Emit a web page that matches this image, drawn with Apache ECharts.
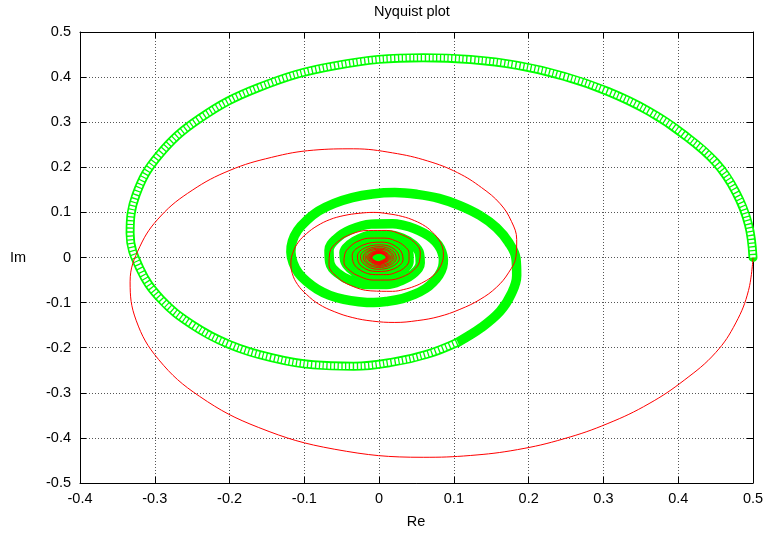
<!DOCTYPE html>
<html>
<head>
<meta charset="utf-8">
<title>Nyquist plot</title>
<script src="https://cdn.jsdelivr.net/npm/echarts@6/dist/echarts.min.js"></script>
<style>
  html, body { margin: 0; padding: 0; background: #fff; }
  #chart { width: 767px; height: 534px; }
</style>
</head>
<body>
<div id="chart"></div>
<script>
// Axis ranges and tick labels
const X_MIN = -0.4, X_MAX = 0.5, Y_MIN = -0.5, Y_MAX = 0.5, STEP = 0.1;
const xTickLabels = ['-0.4', '-0.3', '-0.2', '-0.1', '0', '0.1', '0.2', '0.3', '0.4', '0.5'];
const yTickLabels = ['-0.5', '-0.4', '-0.3', '-0.2', '-0.1', '0', '0.1', '0.2', '0.3', '0.4', '0.5'];

// Positive-frequency branch (Re, Im), first turn: sparse square markers
const greenOuterPts = [
  [0.500, 0.000], [0.494, 0.073], [0.477, 0.145], [0.450, 0.211], [0.408, 0.272],
  [0.361, 0.324], [0.306, 0.368], [0.247, 0.402], [0.185, 0.426], [0.122, 0.439],
  [0.059, 0.443], [-0.060, 0.425], [-0.161, 0.377], [-0.240, 0.308], [-0.295, 0.226],
  [-0.325, 0.139], [-0.333, 0.054], [-0.320, -0.024], [-0.292, -0.092], [-0.250, -0.149],
  [-0.200, -0.193], [-0.144, -0.222], [-0.088, -0.238], [-0.034, -0.241], [0.018, -0.232],
  [0.065, -0.214], [0.105, -0.188]
];

// Positive-frequency branch, remaining turns (markers merge into a solid band)
const greenInnerPts = [
  [0.105, -0.188], [0.137, -0.155], [0.162, -0.119], [0.177, -0.080], [0.184, -0.040],
  [0.183, -0.002], [0.173, 0.034], [0.157, 0.066], [0.135, 0.093], [0.108, 0.115],
  [0.080, 0.131], [0.051, 0.140], [0.021, 0.144], [-0.009, 0.141], [-0.036, 0.133],
  [-0.060, 0.120], [-0.081, 0.103], [-0.097, 0.082], [-0.109, 0.060], [-0.116, 0.036],
  [-0.118, 0.012], [-0.115, -0.012], [-0.108, -0.034], [-0.097, -0.053], [-0.083, -0.070],
  [-0.066, -0.084], [-0.047, -0.093], [-0.027, -0.098], [-0.007, -0.100], [0.012, -0.097],
  [0.031, -0.091], [0.047, -0.082], [0.062, -0.069], [0.072, -0.055], [0.080, -0.039],
  [0.085, -0.021], [0.086, -0.005], [0.084, 0.012], [0.079, 0.028], [0.071, 0.042],
  [0.060, 0.054], [0.047, 0.064], [0.033, 0.071], [0.018, 0.075], [-0.011, 0.074],
  [-0.038, 0.062], [-0.057, 0.042], [-0.067, 0.016], [-0.066, -0.011], [-0.056, -0.034],
  [-0.037, -0.052], [-0.014, -0.060], [0.010, -0.060], [0.031, -0.050], [0.047, -0.034],
  [0.055, -0.012], [0.054, 0.009], [0.046, 0.028], [0.031, 0.043], [0.012, 0.050],
  [-0.008, 0.050], [-0.026, 0.042], [-0.039, 0.029], [-0.047, 0.011], [-0.046, -0.007],
  [-0.039, -0.024], [-0.027, -0.037], [-0.011, -0.043], [0.007, -0.043], [0.022, -0.037],
  [0.034, -0.025], [0.040, -0.010], [0.040, 0.006], [0.035, 0.021], [0.024, 0.032],
  [0.010, 0.038], [-0.005, 0.038],
  [-0.030, 0.022], [-0.036, -0.005], [-0.021, -0.028], [0.004, -0.034], [0.026, -0.020],
  [0.032, 0.004], [0.020, 0.025], [-0.003, 0.031],
  [-0.024, 0.019], [-0.029, -0.003], [-0.018, -0.022], [0.003, -0.028], [0.021, -0.0175],
  [0.027, 0.002], [0.017, 0.020], [-0.002, 0.026],
  [-0.019, 0.016], [-0.025, -0.002], [-0.016, -0.018], [0.0015, -0.024], [0.0175, -0.0156],
  [0.023, 0.001], [0.015, 0.0167], [-0.001, 0.022],
  [-0.016, 0.0146], [-0.0214, -0.0008], [-0.0143, -0.0153], [0.0006, -0.0207], [0.0146, -0.0141],
  [0.020, 0.0004], [0.0137, 0.0141], [-0.0002, 0.0194],
  [-0.0141, 0.0129], [-0.0188, -0.0007], [-0.0126, -0.0135], [0.0005, -0.0182], [0.013, -0.0125],
  [0.0177, 0.0004], [0.0122, 0.0125], [-0.0002, 0.0172],
  [-0.0168, -0.0006], [0.0004, -0.0163], [0.0159, 0.0003], [0.000, 0.0155],
  [-0.0152, 0.000], [0.000, -0.0148], [0.0145, 0.000], [0.000, 0.0141],
  [-0.0138, 0.000], [0.000, -0.0135], [0.0132, 0.000], [0.000, 0.0130],
  [-0.0127, 0.000], [0.000, -0.0124], [0.0122, 0.000], [0.000, 0.0120],
  [-0.0117, 0.000], [0.000, -0.0115], [0.0113, 0.000], [0.000, 0.0111],
  [-0.0109, 0.000], [0.000, -0.0107], [0.0105, 0.000], [0.000, 0.0104],
  [-0.0102, 0.000], [0.000, -0.0100], [0.0099, 0.000], [0.000, 0.0097],
  [-0.0096, 0.000], [0.000, -0.0094], [0.0093, 0.000], [0.000, 0.0092],
  [-0.0085, 0.000], [0.000, -0.0078], [0.0072, 0.000], [0.000, 0.0066],
  [-0.0060, 0.000], [0.000, -0.0054], [0.0048, 0.000], [0.000, 0.0042],
  [-0.0036, 0.000], [0.000, -0.0030], [0.0024, 0.000], [0.000, 0.0018]
];

// Negative-frequency branch (Re, Im), drawn as a thin line
const redPts = [
  [0.500, 0.000], [0.494, -0.073], [0.477, -0.145], [0.450, -0.211], [0.408, -0.272],
  [0.361, -0.324], [0.306, -0.368], [0.247, -0.402], [0.185, -0.426], [0.122, -0.439],
  [0.059, -0.443], [-0.060, -0.425], [-0.161, -0.377], [-0.240, -0.308], [-0.295, -0.226],
  [-0.325, -0.139], [-0.333, -0.054], [-0.320, 0.024], [-0.292, 0.092], [-0.250, 0.149],
  [-0.200, 0.193], [-0.144, 0.222], [-0.088, 0.238], [-0.034, 0.241], [0.018, 0.232],
  [0.065, 0.214], [0.105, 0.188],
  [0.137, 0.155], [0.162, 0.119], [0.177, 0.080], [0.184, 0.040],
  [0.183, 0.002], [0.173, -0.034], [0.157, -0.066], [0.135, -0.093], [0.108, -0.115],
  [0.080, -0.131], [0.051, -0.140], [0.021, -0.144], [-0.009, -0.141], [-0.036, -0.133],
  [-0.060, -0.120], [-0.081, -0.103], [-0.097, -0.082], [-0.109, -0.060], [-0.116, -0.036],
  [-0.118, -0.012], [-0.115, 0.012], [-0.108, 0.034], [-0.097, 0.053], [-0.083, 0.070],
  [-0.066, 0.084], [-0.047, 0.093], [-0.027, 0.098], [-0.007, 0.100], [0.012, 0.097],
  [0.031, 0.091], [0.047, 0.082], [0.062, 0.069], [0.072, 0.055], [0.080, 0.039],
  [0.085, 0.021], [0.086, 0.005], [0.084, -0.012], [0.079, -0.028], [0.071, -0.042],
  [0.060, -0.054], [0.047, -0.064], [0.033, -0.071], [0.018, -0.075], [-0.011, -0.074],
  [-0.038, -0.062], [-0.057, -0.042], [-0.067, -0.016], [-0.066, 0.011], [-0.056, 0.034],
  [-0.037, 0.052], [-0.014, 0.060], [0.010, 0.060], [0.031, 0.050], [0.047, 0.034],
  [0.055, 0.012], [0.054, -0.009], [0.046, -0.028], [0.031, -0.043], [0.012, -0.050],
  [-0.008, -0.050], [-0.026, -0.042], [-0.039, -0.029], [-0.047, -0.011], [-0.046, 0.007],
  [-0.039, 0.024], [-0.027, 0.037], [-0.011, 0.043], [0.007, 0.043], [0.022, 0.037],
  [0.034, 0.025], [0.040, 0.010], [0.040, -0.006], [0.035, -0.021], [0.024, -0.032],
  [0.010, -0.038], [-0.005, -0.038],
  [-0.030, -0.022], [-0.036, 0.005], [-0.021, 0.028], [0.004, 0.034], [0.026, 0.020],
  [0.032, -0.004], [0.020, -0.025], [-0.003, -0.031],
  [-0.024, -0.019], [-0.029, 0.003], [-0.018, 0.022], [0.003, 0.028], [0.021, 0.0175],
  [0.027, -0.002], [0.017, -0.020], [-0.002, -0.026],
  [-0.019, -0.016], [-0.025, 0.002], [-0.016, 0.018], [0.0015, 0.024], [0.0175, 0.0156],
  [0.023, -0.001], [0.015, -0.0167], [-0.001, -0.022],
  [-0.016, -0.0146], [-0.0214, 0.0008], [-0.0143, 0.0153], [0.0006, 0.0207], [0.0146, 0.0141],
  [0.020, -0.0004], [0.0137, -0.0141], [-0.0002, -0.0194],
  [-0.0141, -0.0129], [-0.0188, 0.0007], [-0.0126, 0.0135], [0.0005, 0.0182], [0.013, 0.0125],
  [0.0177, -0.0004], [0.0122, -0.0125], [-0.0002, -0.0172],
  [-0.0168, 0.0006], [0.0004, 0.0163], [0.0159, -0.0003], [0.000, -0.0155],
  [-0.0152, 0.000], [0.000, 0.0148], [0.0145, 0.000], [0.000, -0.0141],
  [-0.0138, 0.000], [0.000, 0.0135], [0.0132, 0.000], [0.000, -0.0130],
  [-0.0127, 0.000], [0.000, 0.0124], [0.0122, 0.000], [0.000, -0.0120],
  [-0.0117, 0.000], [0.000, 0.0115], [0.0113, 0.000], [0.000, -0.0111],
  [-0.0109, 0.000], [0.000, 0.0107], [0.0105, 0.000], [0.000, -0.0104],
  [-0.0102, 0.000], [0.000, 0.0100], [0.0099, 0.000], [0.000, -0.0097],
  [-0.0096, 0.000], [0.000, 0.0094], [0.0093, 0.000], [0.000, -0.0092]
];

const FONT = 'Liberation Sans, Arial, Helvetica, sans-serif';
const FONT_SIZE = 14.5;
const GREEN = '#00ff00';
const RED = '#ff0000';
const SMOOTH = 0.4;

const chart = echarts.init(document.getElementById('chart'), null, { renderer: 'canvas' });

const borderLine = { show: true, onZero: false, lineStyle: { color: '#000', width: 1 } };
const innerTick = { show: true, inside: true, length: 6, lineStyle: { color: '#000', width: 1 } };
const gridDots = { show: true, lineStyle: { color: '#555', width: 1, type: [1, 2] } };

function xLabel(v) { return xTickLabels[Math.round((v - X_MIN) / STEP)]; }
function yLabel(v) { return yTickLabels[Math.round((v - Y_MIN) / STEP)]; }

function textEl(str, x, y) {
  return {
    type: 'text', x: x, y: y,
    style: { text: str, fill: '#000', font: FONT_SIZE + 'px ' + FONT, textAlign: 'center', textVerticalAlign: 'middle' }
  };
}

chart.setOption({
  animation: false,
  backgroundColor: '#fff',
  grid: { left: 80, right: 14, top: 32, bottom: 51, containLabel: false },
  xAxis: [
    {
      type: 'value', position: 'bottom', min: X_MIN, max: X_MAX, interval: STEP,
      axisLine: borderLine, axisTick: innerTick, splitLine: gridDots,
      axisLabel: { formatter: xLabel, color: '#000', fontFamily: FONT, fontSize: FONT_SIZE, margin: 8 }
    },
    {
      type: 'value', position: 'top', min: X_MIN, max: X_MAX, interval: STEP,
      axisLine: borderLine, axisTick: innerTick, splitLine: { show: false },
      axisLabel: { show: false }
    }
  ],
  yAxis: [
    {
      type: 'value', position: 'left', min: Y_MIN, max: Y_MAX, interval: STEP,
      axisLine: borderLine, axisTick: innerTick, splitLine: gridDots,
      axisLabel: { formatter: yLabel, color: '#000', fontFamily: FONT, fontSize: FONT_SIZE, margin: 9 }
    },
    {
      type: 'value', position: 'right', min: Y_MIN, max: Y_MAX, interval: STEP,
      axisLine: borderLine, axisTick: innerTick, splitLine: { show: false },
      axisLabel: { show: false }
    }
  ],
  graphic: [
    textEl('Nyquist plot', 412, 12),
    textEl('Re', 416, 522),
    textEl('Im', 18, 258)
  ],
  series: [
    {
      name: 'G(jw) outer', type: 'line', data: greenOuterPts, smooth: SMOOTH, showSymbol: false,
      lineStyle: { color: GREEN, width: 9, cap: 'round', join: 'round' }, z: 2
    },
    {
      name: 'G(jw) outer fill', type: 'line', data: greenOuterPts, smooth: SMOOTH, showSymbol: false,
      lineStyle: { color: '#ffffff', width: 5.5, type: [2.5, 1.3], cap: 'butt' }, z: 3
    },
    {
      name: 'G(jw) inner', type: 'line', data: greenInnerPts, smooth: SMOOTH, showSymbol: false,
      lineStyle: { color: GREEN, width: 9.5, cap: 'round', join: 'round' }, z: 2
    },
    {
      name: 'G(-jw)', type: 'line', data: redPts, smooth: SMOOTH, showSymbol: false,
      lineStyle: { color: RED, width: 1 }, z: 4
    }
  ]
});
</script>
</body>
</html>
